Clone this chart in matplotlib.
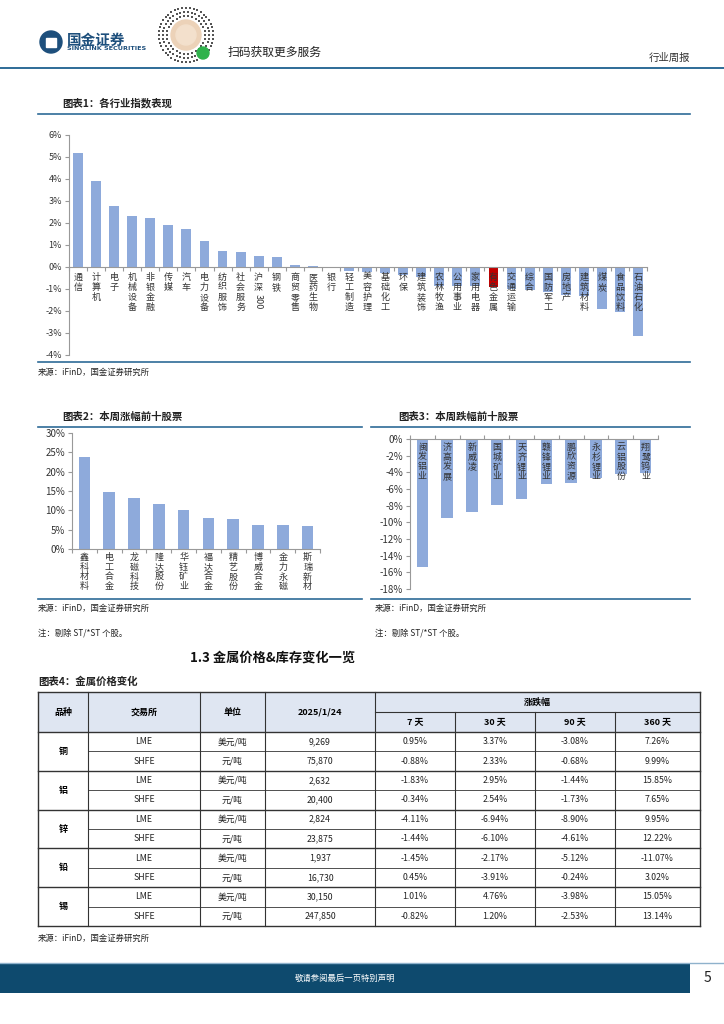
import numpy as np
import matplotlib
matplotlib.use("Agg")
import matplotlib.pyplot as plt
from matplotlib.patches import Rectangle, Circle

plt.rcParams['font.family'] = ['Noto Sans CJK SC', 'DejaVu Sans']
plt.rcParams['axes.unicode_minus'] = False

# ---------------- data ----------------
ind_names = ["通信", "计算机", "电子", "机械设备", "非银金融", "传媒", "汽车", "电力设备",
             "纺织服饰", "社会服务", "沪深300", "钢铁", "商贸零售", "医药生物", "银行",
             "轻工制造", "美容护理", "基础化工", "环保", "建筑装饰", "农林牧渔", "公用事业",
             "家用电器", "有色金属", "交通运输", "综合", "国防军工", "房地产", "建筑材料",
             "煤炭", "食品饮料", "石油石化"]
ind_vals = [5.20, 3.92, 2.79, 2.30, 2.21, 1.92, 1.72, 1.17, 0.71, 0.67, 0.52, 0.47,
            0.11, 0.06, 0.02, -0.17, -0.24, -0.29, -0.38, -0.45, -0.85, -0.85, -0.86,
            -0.91, -0.98, -1.03, -1.15, -1.27, -1.33, -1.89, -2.06, -3.15]

up_names = ["鑫科材料", "电工合金", "龙磁科技", "隆达股份", "华钰矿业",
            "福达合金", "精艺股份", "博威合金", "金力永磁", "斯瑞新材"]
up_vals = [23.9, 14.7, 13.3, 11.6, 10.0, 8.1, 7.8, 6.2, 6.2, 6.0]

down_names = ["闽发铝业", "济高发展", "新威凌", "国城矿业", "天齐锂业",
              "赣锋锂业", "鹏欣资源", "永杉锂业", "云铝股份", "翔鹭钨业"]
down_vals = [-15.3, -9.45, -8.75, -7.95, -7.2, -5.45, -5.3, -4.65, -4.25, -4.1]

metals = ["铜", "铝", "锌", "铅", "锡"]
exchanges = ["LME", "SHFE"] * 5
units = ["美元/吨", "元/吨"] * 5
prices = ["9,269", "75,870", "2,632", "20,400", "2,824", "23,875", "1,937", "16,730", "30,150", "247,850"]
chg_7d = [0.95, -0.88, -1.83, -0.34, -4.11, -1.44, -1.45, 0.45, 1.01, -0.82]
chg_30d = [3.37, 2.33, 2.95, 2.54, -6.94, -6.10, -2.17, -3.91, 4.76, 1.20]
chg_90d = [-3.08, -0.68, -1.44, -1.73, -8.90, -4.61, -5.12, -0.24, -3.98, -2.53]
chg_360d = [7.26, 9.99, 15.85, 7.65, 9.95, 12.22, -11.07, 3.02, 15.05, 13.14]

W, H = 724, 1024
BLUE = "#2e6b97"
BAR = "#8eaadb"
TXT = "#333333"


def box(x0, y0, x1, y1):
    return [x0 / W, 1 - y1 / H, (x1 - x0) / W, (y1 - y0) / H]


fig = plt.figure(figsize=(W / 100, H / 100), dpi=100)
pg = fig.add_axes([0, 0, 1, 1])
pg.set_xlim(0, W)
pg.set_ylim(H, 0)
pg.axis("off")

# ---------------- header ----------------
pg.add_patch(Circle((51, 42), 11, color="#1d4f7c"))
pg.add_patch(Rectangle((46, 38), 10, 9, color="white"))
pg.text(67, 40, "国金证券", fontsize=10.5, fontweight="bold", color="#1d4f7c", va="center")
pg.text(67, 49, "SINOLINK SECURITIES", fontsize=4.6, fontweight="bold", color="#1d4f7c", va="center",
        family="DejaVu Sans")
# qr code stand-in
for r, n in [(27, 44), (23, 38), (19, 30)]:
    ang = np.linspace(0, 2 * np.pi, n, endpoint=False)
    pg.scatter(186 + r * np.cos(ang), 35 + r * np.sin(ang), s=2.5, color="#555", marker="s", lw=0)
pg.add_patch(Circle((186, 35), 15, color="#ecd2b8"))
pg.add_patch(Circle((186, 35), 10, color="#f3e0cc"))
pg.add_patch(Circle((203, 53), 6, color="#2fb24c"))
pg.text(228, 52, "扫码获取更多服务", fontsize=8.5, color="#222", va="center")
pg.text(690, 58, "行业周报", fontsize=7.5, color="#333", va="center", ha="right")
pg.plot([0, W], [68, 68], color=BLUE, lw=1.4)

# ---------------- chart 1 frame ----------------
pg.text(62, 103, "图表1：各行业指数表现", fontsize=7.5, fontweight="bold", color="#222", va="center")
pg.plot([38, 690], [114, 114], color=BLUE, lw=1.2)
pg.plot([38, 690], [362, 362], color=BLUE, lw=1.2)
pg.text(38, 372, "来源：iFinD，国金证券研究所", fontsize=6, color="#222", va="center")

ax1 = fig.add_axes(box(69, 135, 647, 355))
x1 = np.arange(len(ind_vals))
cols1 = ["#c00000" if n == "有色金属" else BAR for n in ind_names]
ax1.bar(x1, ind_vals, width=0.55, color=cols1, zorder=2)
ax1.set_xlim(-0.5, len(ind_vals) - 0.5)
ax1.set_ylim(-4, 6)
ax1.set_yticks(range(-4, 7))
ax1.set_yticklabels([f"{v}%" for v in range(-4, 7)])
ax1.set_xticks([])
ax1.set_xticks(np.arange(len(ind_vals) + 1) - 0.5, minor=True)
for s in ["top", "right"]:
    ax1.spines[s].set_visible(False)
ax1.spines["bottom"].set_position(("data", 0))
ax1.spines["bottom"].set_color("#999")
ax1.spines["left"].set_color("#999")
ax1.tick_params(axis="y", labelsize=6.5, colors=TXT, length=3, width=0.8, color="#999", pad=2)
ax1.tick_params(axis="x", which="minor", length=3, width=0.8, color="#999")
ax1.patch.set_alpha(0)
for i, name in enumerate(ind_names):
    if name == "沪深300":
        ax1.annotate("沪\n深", (i, 0), xytext=(0, -6), textcoords="offset pixels",
                     ha="center", va="top", fontsize=6.5, linespacing=1.12, color=TXT, zorder=3)
        ax1.annotate("300", (i, 0), xytext=(0, -27), textcoords="offset pixels", rotation=-90,
                     ha="center", va="top", fontsize=6.5, color=TXT, zorder=3)
    else:
        ax1.annotate("\n".join(name), (i, 0), xytext=(0, -6), textcoords="offset pixels",
                     ha="center", va="top", fontsize=6.5, linespacing=1.12, color=TXT, zorder=3)

# ---------------- chart 2 ----------------
pg.text(62, 417, "图表2：本周涨幅前十股票", fontsize=7.5, fontweight="bold", color="#222", va="center")
pg.plot([38, 362], [427, 427], color=BLUE, lw=1.2)
pg.plot([38, 362], [599, 599], color=BLUE, lw=1.2)
pg.text(38, 608, "来源：iFinD，国金证券研究所", fontsize=6, color="#222", va="center")
pg.text(38, 633, "注：剔除 ST/*ST 个股。", fontsize=6, color="#222", va="center")

ax2 = fig.add_axes(box(72, 433, 320, 549))
x2 = np.arange(len(up_vals))
ax2.bar(x2, up_vals, width=0.47, color=BAR, zorder=2)
ax2.set_xlim(-0.5, len(up_vals) - 0.5)
ax2.set_ylim(0, 30)
ax2.set_yticks(range(0, 31, 5))
ax2.set_yticklabels([f"{v}%" for v in range(0, 31, 5)])
ax2.set_xticks([])
ax2.set_xticks(np.arange(len(up_vals) + 1) - 0.5, minor=True)
for s in ["top", "right"]:
    ax2.spines[s].set_visible(False)
for s in ["bottom", "left"]:
    ax2.spines[s].set_color("#999")
ax2.tick_params(axis="y", labelsize=7, colors=TXT, length=3, width=0.8, color="#999", pad=2)
ax2.tick_params(axis="x", which="minor", length=3, width=0.8, color="#999")
ax2.patch.set_alpha(0)
for i, name in enumerate(up_names):
    ax2.annotate("\n".join(name), (i, 0), xytext=(0, -4), textcoords="offset pixels",
                 ha="center", va="top", fontsize=6.5, linespacing=1.1, color=TXT)

# ---------------- chart 3 ----------------
pg.text(398, 417, "图表3：本周跌幅前十股票", fontsize=7.5, fontweight="bold", color="#222", va="center")
pg.plot([371, 690], [427, 427], color=BLUE, lw=1.2)
pg.plot([371, 690], [599, 599], color=BLUE, lw=1.2)
pg.text(375, 608, "来源：iFinD，国金证券研究所", fontsize=6, color="#222", va="center")
pg.text(375, 633, "注：剔除 ST/*ST 个股。", fontsize=6, color="#222", va="center")

ax3 = fig.add_axes(box(410, 439, 658, 589))
x3 = np.arange(len(down_vals))
ax3.bar(x3, down_vals, width=0.47, color=BAR, zorder=2)
ax3.set_xlim(-0.5, len(down_vals) - 0.5)
ax3.set_ylim(-18, 0)
ax3.set_yticks(range(-18, 1, 2))
ax3.set_yticklabels([f"{v}%" for v in range(-18, 1, 2)])
ax3.xaxis.tick_top()
ax3.set_xticks([])
ax3.set_xticks(np.arange(len(down_vals) + 1) - 0.5, minor=True)
for s in ["bottom", "right"]:
    ax3.spines[s].set_visible(False)
for s in ["top", "left"]:
    ax3.spines[s].set_color("#999")
ax3.tick_params(axis="y", labelsize=7, colors=TXT, length=3, width=0.8, color="#999", pad=2)
ax3.tick_params(axis="x", which="minor", length=3, width=0.8, color="#999", top=True, bottom=False)
ax3.patch.set_alpha(0)
for i, name in enumerate(down_names):
    ax3.annotate("\n".join(name), (i, 0), xytext=(0, -4), textcoords="offset pixels",
                 ha="center", va="top", fontsize=6.5, linespacing=1.1, color=TXT, zorder=3)

# ---------------- section heading + table ----------------
pg.text(190, 658, "1.3 金属价格&库存变化一览", fontsize=9.5, fontweight="bold", color="#111", va="center")
pg.text(38, 682, "图表4：金属价格变化", fontsize=7.5, fontweight="bold", color="#222", va="center")

cx = [38, 88, 200, 265, 375, 455, 535, 615, 700]
t_top, t_mid, t_hdr = 692, 712, 732
rh = (926 - t_hdr) / 10
pg.add_patch(Rectangle((cx[0], t_top), cx[-1] - cx[0], t_hdr - t_top, color="#dfe6f2", lw=0))
line_c = "#333"
pg.plot([cx[0], cx[-1]], [t_top, t_top], color=line_c, lw=1.0)
pg.plot([cx[4], cx[-1]], [t_mid, t_mid], color=line_c, lw=0.8)
pg.plot([cx[0], cx[-1]], [t_hdr, t_hdr], color=line_c, lw=1.0)
for k, x in enumerate(cx):
    ytop = t_mid if 4 < k < len(cx) - 1 else t_top
    pg.plot([x, x], [ytop, 926], color=line_c, lw=0.8 if 0 < k < len(cx) - 1 else 1.0)
for g in range(5):
    yb = t_hdr + (g + 1) * 2 * rh
    pg.plot([cx[0], cx[-1]], [yb, yb], color=line_c, lw=1.0)
    ym = t_hdr + (2 * g + 1) * rh
    pg.plot([cx[1], cx[-1]], [ym, ym], color=line_c, lw=0.6)

hfs = 6.5
pg.text((cx[0] + cx[1]) / 2, (t_top + t_hdr) / 2, "品种", fontsize=hfs, fontweight="bold", ha="center", va="center")
pg.text((cx[1] + cx[2]) / 2, (t_top + t_hdr) / 2, "交易所", fontsize=hfs, fontweight="bold", ha="center", va="center")
pg.text((cx[2] + cx[3]) / 2, (t_top + t_hdr) / 2, "单位", fontsize=hfs, fontweight="bold", ha="center", va="center")
pg.text((cx[3] + cx[4]) / 2, (t_top + t_hdr) / 2, "2025/1/24", fontsize=hfs, fontweight="bold", ha="center", va="center")
pg.text((cx[4] + cx[-1]) / 2, (t_top + t_mid) / 2, "涨跌幅", fontsize=hfs, fontweight="bold", ha="center", va="center")
for k, lab in enumerate(["7 天", "30 天", "90 天", "360 天"]):
    pg.text((cx[4 + k] + cx[5 + k]) / 2, (t_mid + t_hdr) / 2, lab, fontsize=hfs, fontweight="bold",
            ha="center", va="center")

for g, m in enumerate(metals):
    pg.text((cx[0] + cx[1]) / 2, t_hdr + (2 * g + 1) * rh, m, fontsize=hfs, fontweight="bold",
            ha="center", va="center")
for r in range(10):
    yc = t_hdr + (r + 0.5) * rh
    row = [exchanges[r], units[r], prices[r],
           f"{chg_7d[r]:.2f}%", f"{chg_30d[r]:.2f}%", f"{chg_90d[r]:.2f}%", f"{chg_360d[r]:.2f}%"]
    for k, val in enumerate(row):
        pg.text((cx[1 + k] + cx[2 + k]) / 2, yc, val, fontsize=6.3, ha="center", va="center", color="#222")

pg.text(38, 938, "来源：iFinD，国金证券研究所", fontsize=6, color="#222", va="center")

# ---------------- footer ----------------
pg.plot([0, W], [963, 963], color="#8fb2cc", lw=1.0)
pg.add_patch(Rectangle((0, 964), 690, 29, color="#0e4a6e", lw=0))
pg.text(345, 978, "敬请参阅最后一页特别声明", fontsize=6, color="white", ha="center", va="center")
pg.text(707, 978, "5", fontsize=10, color="#222", ha="center", va="center")

fig.savefig("out.png", dpi=100)
